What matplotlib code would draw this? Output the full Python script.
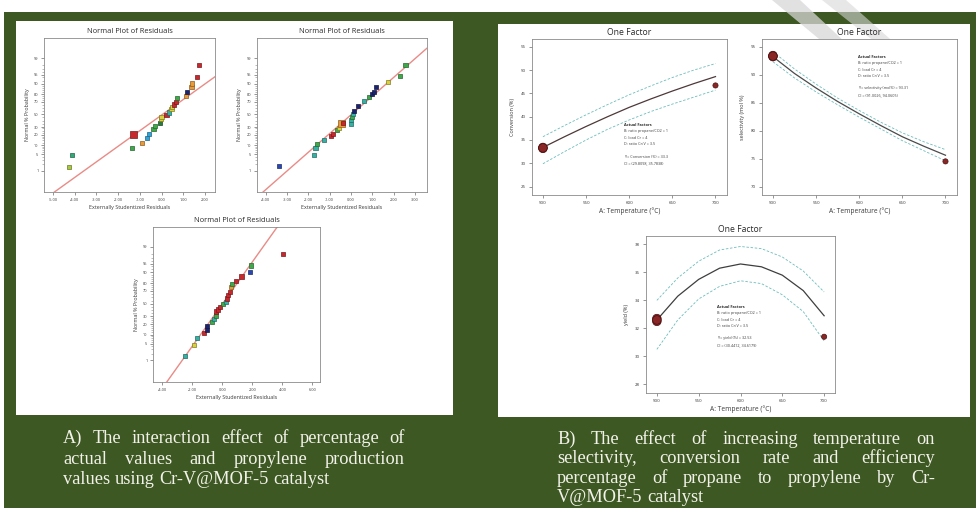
import math
import numpy as np
import matplotlib
matplotlib.use("Agg")
import matplotlib.pyplot as plt
import matplotlib.colors as mcolors
from matplotlib.patches import Rectangle, Polygon
from matplotlib.ticker import FixedLocator, NullFormatter
from statistics import NormalDist

# ---------------- data ----------------
# Normal plot 1
np1_x = [-4.28, -4.12, -1.38, -0.92, -1.28, -0.66, -0.58, -0.37, -0.31, -0.06, -0.03, 0.00, 0.23,
         0.34, 0.46, 0.49, 0.58, 0.65, 0.72, 1.11, 1.17, 1.38, 1.42, 1.62, 1.74]
np1_p = [1.5, 4.7, 8.1, 11.7, 20.0, 16.4, 21.0, 27.8, 31.2, 36.7, 42.1, 46.0, 48.8,
         53.2, 58.7, 62.2, 65.9, 69.8, 75.5, 78.0, 82.6, 87.5, 90.0, 94.0, 98.0]
np1_c = ['yg', 'tg', 'g', 'o', 'r', 'c', 'c', 'g', 'g', 'dg', 'y', 'y', 'r',
         't', 'y', 'y', 'r', 'r', 'g', 'o', 'n', 'o', 'o', 'r', 'r']
np1_line_x = [-5.0, 2.46]
np1_line_p = [0.056, 94.1]
np1_xticks = [-5, -4, -3, -2, -1, 0, 1, 2]
np1_xlabels = ["-5.00", "-4.00", "-3.00", "-2.00", "-1.00", "0.00", "1.00", "2.00"]

# Normal plot 2
np2_x = [-3.38, -1.72, -1.66, -1.61, -1.25, -0.94, -0.83, -0.67, -0.56, -0.44, -0.36, 0.00, 0.00,
         0.06, 0.11, 0.16, 0.34, 0.63, 0.84, 1.00, 1.09, 1.16, 1.72, 2.30, 2.56]
np2_p = [1.6, 4.8, 8.1, 11.1, 14.7, 18.4, 21.2, 25.5, 28.8, 34.8, 36.3, 35.2, 40.5,
         46.0, 50.8, 55.2, 63.7, 70.9, 76.7, 79.7, 82.6, 87.5, 91.3, 94.5, 98.0]
np2_c = ['b', 't', 't', 'g', 't', 'r', 'r', 'g', 'y', 'o', 'r', 't', 't',
         'g', 't', 'n', 'n', 't', 'g', 'n', 'n', 'n', 'y', 'g', 'g']
np2_line_x = [-4.14, 3.55]
np2_line_p = [0.062, 99.69]
np2_xticks = [-4, -3, -2, -1, 0, 1, 2, 3]
np2_xlabels = ["-4.00", "-3.00", "-2.00", "-1.00", "0.00", "1.00", "2.00", "3.00"]

# Normal plot 3
np3_x = [-2.51, -1.91, -1.69, -1.24, -1.02, -1.00, -0.67, -0.56, -0.44, -0.40, -0.29, -0.18,
         0.04, 0.22, 0.31, 0.38, 0.49, 0.56, 0.62, 0.89, 1.27, 1.82, 1.93, 4.04]
np3_p = [1.6, 4.5, 7.8, 11.3, 14.2, 17.6, 22.4, 26.4, 31.2, 37.4, 40.5, 44.4,
         48.8, 52.8, 58.3, 63.7, 68.8, 75.5, 78.8, 82.4, 86.7, 90.1, 94.1, 97.9]
np3_c = ['t', 'y', 't', 'r', 'n', 'n', 'g', 't', 'g', 'r', 'r', 'r',
         'g', 't', 'r', 'r', 'r', 'o', 'g', 'r', 'r', 'b', 'g', 'r']
np3_line_x = [-3.73, 3.71]
np3_line_p = [0.060, 99.93]
np3_xticks = [-4, -2, 0, 2, 4, 6]
np3_xlabels = ["-4.00", "-2.00", "0.00", "2.00", "4.00", "6.00"]

prob_ticks = [1, 5, 10, 20, 30, 50, 70, 80, 90, 95, 99]

# One-factor plots
temps = [500, 525, 550, 575, 600, 625, 650, 675, 700]
conv_mean = [33.4, 35.7, 37.9, 40.0, 42.0, 43.8, 45.5, 47.1, 48.6]
conv_up = [35.7, 38.1, 40.4, 42.6, 44.7, 46.6, 48.4, 50.0, 51.4]
conv_lo = [29.9, 32.5, 35.0, 37.3, 39.3, 41.1, 42.7, 44.2, 45.7]
conv_pts_x = [500, 500, 500, 700]
conv_pts_y = [33.2, 33.4, 33.3, 46.7]

sel_mean = [93.2, 90.2, 87.6, 85.2, 83.0, 80.9, 78.9, 77.2, 75.6]
sel_up = [94.1, 91.0, 88.3, 85.8, 83.6, 81.5, 79.6, 78.0, 76.6]
sel_lo = [92.3, 89.4, 86.9, 84.6, 82.4, 80.3, 78.2, 76.4, 74.6]
sel_pts_x = [500, 500, 500, 700]
sel_pts_y = [93.2, 93.4, 93.3, 74.5]

yld_mean = [32.6, 34.3, 35.5, 36.3, 36.6, 36.4, 35.8, 34.7, 32.9]
yld_up = [34.0, 35.6, 36.8, 37.6, 37.85, 37.7, 37.1, 36.1, 34.6]
yld_lo = [30.5, 32.6, 34.1, 35.0, 35.4, 35.2, 34.4, 33.2, 31.1]
yld_pts_x = [500, 500, 500, 700]
yld_pts_y = [32.5, 32.7, 32.6, 31.4]

temp_ticks = [500, 550, 600, 650, 700]

factor_lines = ["B: ratio propane/CO2 = 1", "C: load Cr = 4", "D: ratio Cr/V = 3.5"]
conv_y_text = ["Y = Conversion (%) = 33.3", "CI = (29.8098, 35.7838)"]
sel_y_text = ["Y = selectivity (mol%) = 93.31", "CI = (91.0026, 94.0605)"]
yld_y_text = ["Y = yield (%) = 32.53", "CI = (30.4412, 34.6179)"]

caption_a = ["A) The interaction effect of percentage of",
             "actual values and propylene production",
             "values using Cr-V@MOF-5 catalyst"]
caption_b = ["B) The effect of increasing temperature on",
             "selectivity, conversion rate and efficiency",
             "percentage of propane to propylene by Cr-",
             "V@MOF-5 catalyst"]

# ---------------- style ----------------
W, H = 976, 508
GREEN = "#3d5822"
PALETTE = {'r': '#c8282c', 'o': '#e89a38', 'y': '#d8d03c', 'yg': '#a8c840', 'g': '#3ea84a',
           'tg': '#30a878', 'dg': '#2a7a3a', 't': '#34b0a4', 'c': '#30a4d8', 'b': '#2a48b0',
           'n': '#1c2470'}
SANS = ["Open Sans", "DejaVu Sans"]
TXT = "#3a3a3a"

fig = plt.figure(figsize=(W / 100, H / 100), dpi=100)
fig.patch.set_facecolor("white")


def fr(x0, y0, x1, y1):
    return [x0 / W, 1 - y1 / H, (x1 - x0) / W, (y1 - y0) / H]


def frect(x0, y0, x1, y1, color, z=0):
    fig.add_artist(Rectangle((x0 / W, 1 - y1 / H), (x1 - x0) / W, (y1 - y0) / H,
                             transform=fig.transFigure, facecolor=color, edgecolor="none", zorder=z))


def fpoly(pts, color, alpha, z):
    fig.add_artist(Polygon([(x / W, 1 - y / H) for x, y in pts], closed=True,
                           transform=fig.transFigure, facecolor=color, edgecolor="none",
                           alpha=alpha, zorder=z))


frect(4, 12, W, H, GREEN, 0)
frect(16, 21, 453, 415, "white", 1)
frect(498, 24, 970, 417, "white", 1)
# faint brush-stroke watermark at the top
fpoly([(772, 0), (800, 0), (862, 58), (842, 58)], "#d8d8d8", 0.75, 1.5)
fpoly([(822, 0), (846, 0), (898, 46), (880, 46)], "#d8d8d8", 0.6, 1.5)

_nd = NormalDist()


def p2z(p):
    p = np.clip(np.asarray(p, dtype=float) / 100.0, 1e-12, 1 - 1e-12)
    return np.vectorize(_nd.inv_cdf, otypes=[float])(p)


def z2p(z):
    z = np.asarray(z, dtype=float)
    return 50.0 * (1 + np.vectorize(math.erf, otypes=[float])(z / math.sqrt(2)))


def darker(c, f=0.6):
    r, g, b = mcolors.to_rgb(c)
    return (r * f, g * f, b * f)


def style_axes(ax, tick_fs):
    for s in ax.spines.values():
        s.set_color("#8a8a8a")
        s.set_linewidth(0.6)
    ax.tick_params(axis="both", which="major", length=2.2, width=0.5, color="#6a6a6a",
                   labelsize=tick_fs, labelcolor=TXT, pad=2)
    ax.tick_params(axis="both", which="minor", length=1.3, width=0.4, color="#8a8a8a")
    for lab in ax.get_xticklabels() + ax.get_yticklabels():
        lab.set_family(SANS)


def normal_plot(rect, xs, ps, cols, lx, lp, xticks, xlabels, xlim, big_idx):
    ax = fig.add_axes(fr(*rect))
    ax.set_zorder(3)
    ax.set_yscale("function", functions=(p2z, z2p))
    ax.set_ylim(0.068, 99.92)
    ax.set_xlim(*xlim)
    ax.plot(lx, lp, color="#e98b86", lw=1.0, zorder=2)
    fc = [PALETTE[c] for c in cols]
    ec = [darker(PALETTE[c]) for c in cols]
    sizes = [26 if i == big_idx else 9 for i in range(len(xs))]
    ax.scatter(xs, ps, marker="s", s=sizes, c=fc, edgecolors=ec, linewidths=0.5, zorder=3)
    ax.yaxis.set_major_locator(FixedLocator(prob_ticks))
    ax.set_yticklabels([str(t) for t in prob_ticks])
    minors = [2, 3, 4, 6, 7, 8, 9, 12, 14, 16, 18, 22, 25, 28, 35, 40, 45, 55, 60, 65,
              72, 75, 78, 82, 84, 86, 88, 92, 94, 96, 97, 98]
    ax.yaxis.set_minor_locator(FixedLocator(minors))
    ax.yaxis.set_minor_formatter(NullFormatter())
    ax.xaxis.set_major_locator(FixedLocator(xticks))
    ax.set_xticklabels(xlabels)
    ax.xaxis.set_minor_locator(FixedLocator([]))
    style_axes(ax, 2.8)
    ax.set_title("Normal Plot of Residuals", fontsize=5.4, color="#2a2a2a", pad=3.5, family=SANS)
    ax.set_xlabel("Externally Studentized Residuals", fontsize=3.9, color=TXT, labelpad=2.5,
                  family=SANS)
    ax.set_ylabel("Normal % Probability", fontsize=3.9, color=TXT, labelpad=3, family=SANS)
    return ax


normal_plot((44.3, 38.3, 215, 191.7), np1_x, np1_p, np1_c, np1_line_x, np1_line_p,
            np1_xticks, np1_xlabels, (-5.4, 2.46), 4)
normal_plot((256.7, 38.3, 426.7, 191.7), np2_x, np2_p, np2_c, np2_line_x, np2_line_p,
            np2_xticks, np2_xlabels, (-4.42, 3.55), 9)
normal_plot((153.3, 226.7, 320, 381.7), np3_x, np3_p, np3_c, np3_line_x, np3_line_p,
            np3_xticks, np3_xlabels, (-4.6, 6.5), -1)


def factor_plot(rect, mean, up, lo, px, py, ylim, yticks, ylabel, mean_col, ytext, txt_xy,
                line_dy):
    ax = fig.add_axes(fr(*rect))
    ax.set_zorder(3)
    ax.plot(temps, up, color="#6cbcbc", lw=0.6, ls=(0, (3, 2)))
    ax.plot(temps, lo, color="#6cbcbc", lw=0.6, ls=(0, (3, 2)))
    ax.plot(temps, mean, color=mean_col, lw=0.9)
    sizes = [38 if x == temps[0] else 14 for x in px]
    ax.scatter(px, py, s=sizes, c="#8a2626", edgecolors="#4a1010", linewidths=0.5, zorder=4)
    ax.set_xlim(487, 713)
    ax.set_ylim(*ylim)
    ax.xaxis.set_major_locator(FixedLocator(temp_ticks))
    ax.yaxis.set_major_locator(FixedLocator(yticks))
    style_axes(ax, 3.2)
    ax.set_title("One Factor", fontsize=6.2, color="#2a2a2a", pad=3, family=SANS)
    ax.set_xlabel("A: Temperature (\u00b0C)", fontsize=4.8, color=TXT, labelpad=2, family=SANS)
    ax.set_ylabel(ylabel, fontsize=4.0, color=TXT, labelpad=4, family=SANS)
    tx, ty = txt_xy
    fig.text(tx / W, 1 - ty / H, "Actual Factors", fontsize=2.8, weight="bold", color="#2a2a2a",
             family=SANS, zorder=5)
    for i, s in enumerate(factor_lines):
        fig.text(tx / W, 1 - (ty + (i + 1) * line_dy) / H, s, fontsize=2.7, color=TXT,
                 family=SANS, zorder=5)
    for i, s in enumerate(ytext):
        fig.text(tx / W, 1 - (ty + (5 + i) * line_dy) / H, s, fontsize=2.7, color=TXT,
                 family=SANS, zorder=5)
    return ax


factor_plot((531.7, 39.3, 726.7, 195), conv_mean, conv_up, conv_lo, conv_pts_x, conv_pts_y,
            (23.2, 56.6), [25, 30, 35, 40, 45, 50, 55], "Conversion (%)", "#4e3838",
            conv_y_text, (624, 126), 6.3)
factor_plot((761.7, 39.3, 956.7, 195), sel_mean, sel_up, sel_lo, sel_pts_x, sel_pts_y,
            (68.5, 96.3), [70, 75, 80, 85, 90, 95], "selectivity (mol %)", "#4a4a4a",
            sel_y_text, (858, 58), 6.3)
factor_plot((646, 236, 835, 393), yld_mean, yld_up, yld_lo, yld_pts_x, yld_pts_y,
            (27.38, 38.6), [28, 30, 32, 34, 36, 38], "yield (%)", "#3e3e3e",
            yld_y_text, (717, 308), 6.3)

# ---------------- captions (justified) ----------------
renderer = fig.canvas.get_renderer()
CAP_FONT = ["Liberation Serif", "DejaVu Serif"]
CAP_COL = "#f2f2ea"


def text_width(s, fs):
    t = fig.text(0, 0, s, fontsize=fs, family=CAP_FONT)
    w = t.get_window_extent(renderer).width
    t.remove()
    return w


# caption font sized relative to the first line of caption A (reference shows loose spacing)
_w10 = text_width(caption_a[0], 10)
CAP_FS = 10 * (405 - 63) / _w10 * 0.89


def justify(lines, x0, x1, base0, dy):
    gap_nat = text_width("a a", CAP_FS) - text_width("aa", CAP_FS)
    for i, line in enumerate(lines):
        words = line.split(" ")
        yb = 1 - (base0 + i * dy) / H
        arts = [fig.text(0, yb, w, fontsize=CAP_FS, family=CAP_FONT, color=CAP_COL,
                         va="baseline", ha="left", zorder=5) for w in words]
        widths = [a.get_window_extent(renderer).width for a in arts]
        last = i == len(lines) - 1
        if last or len(words) == 1:
            gap = gap_nat
        else:
            gap = (x1 - x0 - sum(widths)) / (len(words) - 1)
        x = x0
        for a, w in zip(arts, widths):
            a.set_x(x / W)
            x += w + gap


justify(caption_a, 63, 405, 443, 20.5)
justify(caption_b, 557, 935, 444, 19.3)

fig.savefig("out.png", dpi=100, facecolor=fig.get_facecolor())
